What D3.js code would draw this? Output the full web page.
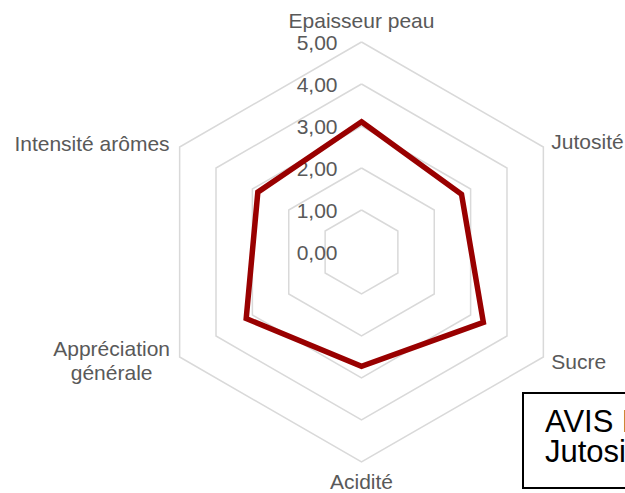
<!DOCTYPE html>
<html>
<head>
<meta charset="utf-8">
<script src="https://cdn.jsdelivr.net/npm/d3@7"></script>
<style>
  body { margin: 0; background: #fff; overflow: hidden; }
  svg { display: block; font-family: "Liberation Sans", Arial, sans-serif; }
</style>
</head>
<body>
<div id="chart"></div>
<script>
// axis names, clockwise from the top
const axes = ["Epaisseur peau", "Jutosité", "Sucre", "Acidité", "Appréciation générale", "Intensité arômes"];
// panel mean scores
const scores = [3.1, 2.75, 3.35, 2.72, 3.17, 2.85];
// radial gridline levels
const levels = [1, 2, 3, 4, 5];
const levelLabels = ["0,00", "1,00", "2,00", "3,00", "4,00", "5,00"];
const legendLines = ["AVIS PANEL", "Jutosité"];

const width = 625, height = 493;
const cx = 361.5, cy = 252;

let svg = d3.select("#chart").append("svg")
  .attr("width", width)
  .attr("height", height);

let r = d3.scaleLinear().domain([0, 5]).range([0, 210]);
let angle = d3.scalePoint().domain(d3.range(axes.length + 1)).range([0, 2 * Math.PI]);

function px(i, v) { return cx + r(v) * Math.sin(angle(i)); }
function py(i, v) { return cy - r(v) * Math.cos(angle(i)); }

let g = svg.append("g");

// hexagon gridlines
let ring = d3.line().x(d => d[0]).y(d => d[1]);
levels.forEach(function(lv) {
  let pts = axes.map((a, i) => [px(i, lv), py(i, lv)]);
  pts.push(pts[0]);
  g.append("path")
    .attr("d", ring(pts))
    .attr("fill", "none")
    .attr("stroke", "#d9d9d9")
    .attr("stroke-width", 1.5);
});

// level labels along the top axis
levelLabels.forEach(function(t, i) {
  g.append("text")
    .attr("x", cx - 24)
    .attr("y", cy - r(i) + 8)
    .attr("text-anchor", "end")
    .style("font-size", "21px")
    .style("fill", "#595959")
    .text(t);
});

// data polygon
let pts = scores.map((v, i) => [px(i, v), py(i, v)]);
g.append("path")
  .attr("d", d3.line()(pts) + "Z")
  .attr("fill", "none")
  .attr("stroke", "#990000")
  .attr("stroke-width", 5.5)
  .attr("stroke-linejoin", "miter");

// axis labels
axes.forEach(function(name, i) {
  let x = px(i, 5), y = py(i, 5);
  let s = Math.sin(angle(i)), c = Math.cos(angle(i));
  let anchor = "middle", dx = 0, dy = 0;
  if (Math.abs(s) < 0.01) {
    dy = c > 0 ? -14 : 27;
  } else if (s > 0) {
    anchor = "start"; dx = 8; dy = c > 0 ? 2 : 12;
  } else {
    anchor = "end"; dx = -10; dy = c > 0 ? 4 : -1;
  }
  let words = name === "Appréciation générale" ? ["Appréciation", "générale"] : [name];
  let t = g.append("text")
    .attr("text-anchor", words.length > 1 ? "middle" : anchor)
    .style("font-size", "21px")
    .style("fill", "#595959");
  words.forEach(function(w, k) {
    t.append("tspan")
      .attr("x", words.length > 1 ? x + dx - 58 : x + dx)
      .attr("y", y + dy + k * 24)
      .text(w);
  });
});

// legend box, clipped by the right edge
svg.append("rect")
  .attr("x", 523)
  .attr("y", 393)
  .attr("width", 140)
  .attr("height", 95)
  .attr("fill", "#fff")
  .attr("stroke", "#000")
  .attr("stroke-width", 2);

legendLines.forEach(function(t, k) {
  svg.append("text")
    .attr("x", 545)
    .attr("y", 432 + k * 30)
    .style("font-size", "31px")
    .style("fill", "#000")
    .text(t);
});
</script>
</body>
</html>
